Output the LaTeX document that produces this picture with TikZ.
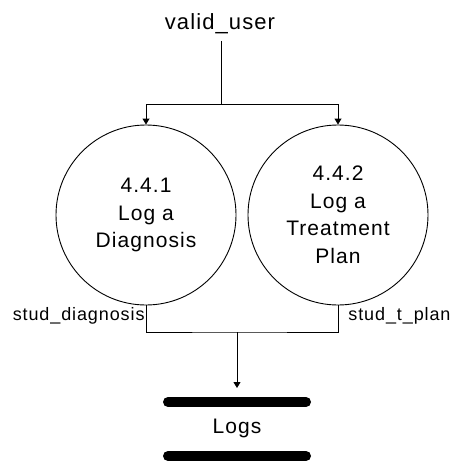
\documentclass[tikz,border=0pt]{standalone}
\usepackage{fontspec}
\setmainfont[LetterSpace=5]{Liberation Sans}
\usetikzlibrary{positioning}
\usetikzlibrary{arrows.meta}

\begin{document}
\begin{tikzpicture}[x=1pt,y=-1pt]

\tikzset{process/.style={
		draw, circle,
		minimum size=180pt,
		inner sep=0pt,
		align=center,
		font=\fontsize{21}{27.5}\selectfont
	},
	flow/.style={-{Triangle[width=7pt,length=6pt]}},
	flowlabel/.style={font=\fontsize{18}{20}\selectfont, inner sep=0pt},
	storebar/.style={line width=10pt, line cap=round}
}
\useasboundingbox (0,0) rectangle (451,461);

\begin{scope}[line width=0.9pt]
\node[font=\fontsize{22}{26}\selectfont] (user) at (220,24) {valid\_user};
\node[process] (diag) at (146,215) {4.4.1\\Log a\\Diagnosis};
\node[process] (plan) at (338,215) {4.4.2\\Log a\\Treatment\\Plan};

% data store
\node[font=\fontsize{21}{25}\selectfont] (logs) at (237,428) {Logs};
\coordinate (topbar) at (237,402);
\coordinate (botbar) at (237,456);
\draw[storebar] ([xshift=-69pt]topbar) -- ([xshift=69pt]topbar);
\draw[storebar] ([xshift=-69pt]botbar) -- ([xshift=69pt]botbar);

%valid_user splits to both processes
\coordinate (split) at (221,104);
\draw ([yshift=-3pt]user.south -| split) -- (split);
\draw[flow] (split) -| (diag.north);
\draw[flow] (split) -| (plan.north);

%both outputs join into the store
\coordinate (join) at (237,332);
\coordinate (into) at (237,388);
\draw (diag.south) |- (join) -| (plan.south);
\draw[flow] (join) -- (into);

\node[flowlabel, anchor=north east] (diagout) at ([xshift=-1pt,yshift=-2pt]diag.south) {stud\_diagnosis};
\node[flowlabel, anchor=north west] (planout) at ([xshift=10pt,yshift=-2pt]plan.south) {stud\_t\_plan};
\end{scope}

\end{tikzpicture}
\end{document}
